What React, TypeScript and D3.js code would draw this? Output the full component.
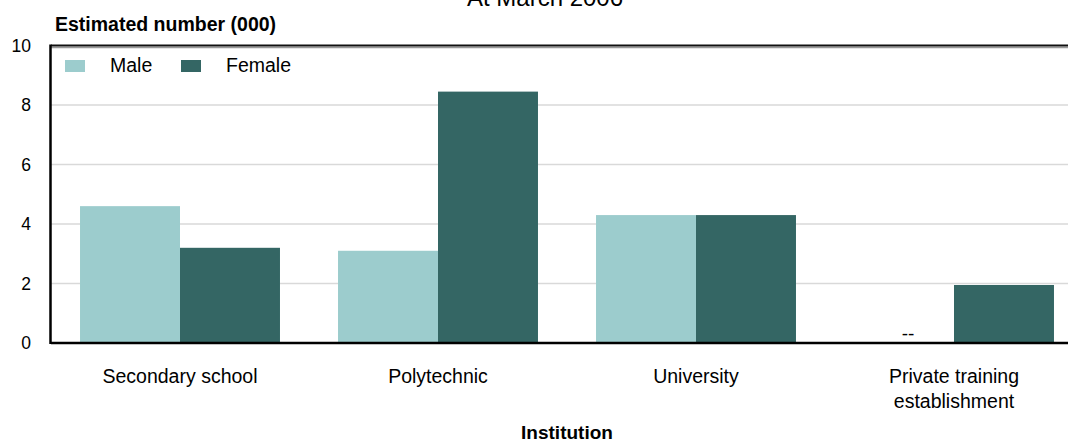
import * as d3 from "d3";

const institutions = ["Secondary school", "Polytechnic", "University", "Private training establishment"];
const categoryLines = [["Secondary school"], ["Polytechnic"], ["University"], ["Private training", "establishment"]];
const seriesNames = ["Male", "Female"];
const maleValues: (number | null)[] = [4.6, 3.1, 4.3, null];
const femaleValues: (number | null)[] = [3.2, 8.45, 4.3, 1.95];
const yTicks = [0, 2, 4, 6, 8, 10];
const colors = ["#9ccccd", "#346664"];

export default function App() {
  const width = 1068;
  const height = 439;
  const left = 51;
  const right = 1083;
  const top = 45.5;
  const bottom = 343;

  const x = d3.scaleBand<string>().domain(institutions).range([left, right]).paddingInner(0.225).paddingOuter(0.1125);
  const xs = d3.scaleBand<string>().domain(seriesNames).range([0, x.bandwidth()]);
  const y = d3.scaleLinear().domain([0, 10]).range([bottom, top]);
  const series = [maleValues, femaleValues];
  const font = "Arial, 'Liberation Sans', sans-serif";

  return (
    <svg width={width} height={height} style={{ position: "absolute", left: 0, top: 0, fontFamily: font }}>
      <text x={545} y={6} fontSize={24} textAnchor="middle" fill="#000">At March 2006</text>
      <text x={55} y={31} fontSize={19.5} fontWeight="bold" fill="#000">Estimated number (000)</text>
      {yTicks.map((t) => (
        <g key={t}>
          {t > 0 && t < 10 && (
            <line x1={left} x2={width} y1={y(t)} y2={y(t)} stroke="#d9d9d9" strokeWidth={1.5} />
          )}
          <text x={31} y={y(t) + 6} fontSize={17.5} textAnchor="end" fill="#000">{t}</text>
        </g>
      ))}
      <line x1={left} x2={width} y1={top + 2} y2={top + 2} stroke="#999" strokeWidth={1.5} />
      <line x1={left} x2={width} y1={top} y2={top} stroke="#111" strokeWidth={2} />
      {institutions.map((inst, i) =>
        series.map((vals, s) => {
          const v = vals[i];
          const bx = (x(inst) ?? 0) + (xs(seriesNames[s]) ?? 0);
          if (v === null) {
            return (
              <text key={inst + s} x={bx + xs.bandwidth() / 2 + 4} y={bottom - 3} fontSize={19} textAnchor="middle" fill="#000">--</text>
            );
          }
          return (
            <rect key={inst + s} x={bx} y={y(v)} width={xs.bandwidth()} height={bottom - y(v)} fill={colors[s]} />
          );
        })
      )}
      <line x1={left} x2={width} y1={bottom} y2={bottom} stroke="#000" strokeWidth={2.5} />
      <line x1={left - 0.5} x2={left - 0.5} y1={top - 1} y2={bottom + 1} stroke="#000" strokeWidth={2.5} />
      {institutions.map((inst, i) => (
        <text key={inst} x={(x(inst) ?? 0) + x.bandwidth() / 2} y={383} fontSize={19.5} textAnchor="middle" fill="#000">
          {categoryLines[i].map((ln, j) => (
            <tspan key={j} x={(x(inst) ?? 0) + x.bandwidth() / 2} dy={j === 0 ? 0 : 24.5}>{ln}</tspan>
          ))}
        </text>
      ))}
      <text x={(left + right) / 2} y={439} fontSize={19} fontWeight="bold" textAnchor="middle" fill="#000">Institution</text>
      {seriesNames.map((name, s) => (
        <g key={name} transform={`translate(${65 + s * 116},60)`}>
          <rect x={0} y={0} width={20} height={12} fill={colors[s]} />
          <text x={45} y={11.5} fontSize={19.5} fill="#000">{name}</text>
        </g>
      ))}
    </svg>
  );
}
